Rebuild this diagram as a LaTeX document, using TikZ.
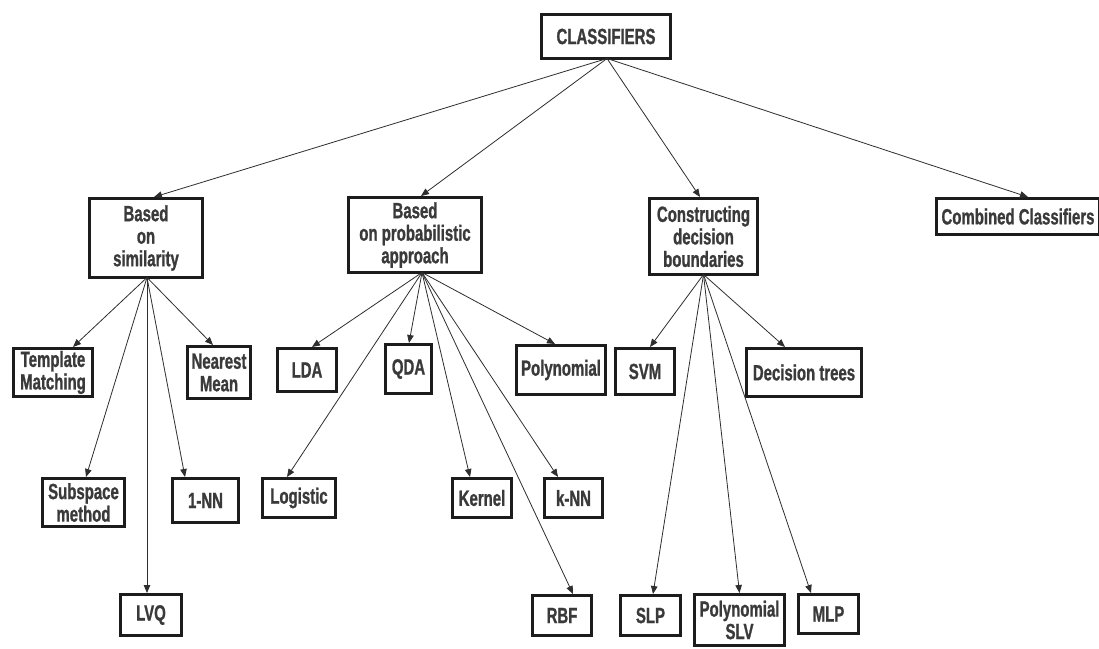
\documentclass[tikz,border=0pt]{standalone}
\usepackage{fontspec}
\usetikzlibrary{arrows.meta}
\newfontfamily\boxfont[FakeStretch=0.68, FakeBold=1]{Liberation Sans Bold}
\definecolor{boxcol}{HTML}{1C1C1C}
\definecolor{txtcol}{HTML}{3A3A3A}
\definecolor{linecol}{HTML}{2E2E2E}
\tikzset{
  box/.style={draw=boxcol, line width=3pt, fill=white, inner sep=0pt,
    align=center, text=txtcol,
    font=\boxfont\fontsize{22}{22.5}\selectfont},
  sz/.style 2 args={minimum width=#1-3, minimum height=#2-3},
  arr/.style={draw=linecol, line width=0.8pt,
    -{Triangle[length=8pt,width=6.5pt]}},
}
\begin{document}
\begin{tikzpicture}[x=1pt,y=-1pt]
\fill[white] (0,0) rectangle (1099,648);
\useasboundingbox (0,0) rectangle (1099,648);

% root
\node[box, sz={132}{47}] (cl) at (606,36.5) {CLASSIFIERS};

% first level
\node[box, sz={116}{82}] (sim) at (146,238) {Based\\on\\similarity};
\node[box, sz={136}{78}] (prob) at (415,235) {Based\\on probabilistic\\approach};
\node[box, sz={111}{79}] (cons) at (703.5,236.5) {Constructing\\decision\\boundaries};
\node[box, sz={166}{39}] (comb) at (1018,216.5) {Combined Classifiers};

% second level
\node[box, sz={82}{51}] (tm) at (53,372.5) {Template\\Matching};
\node[box, sz={66}{55}] (nm) at (219,372.5) {Nearest\\Mean};
\node[box, sz={62}{46}] (lda) at (307,370) {LDA};
\node[box, sz={49}{52}] (qda) at (408.5,369) {QDA};
\node[box, sz={92}{52}] (poly) at (561,370) {Polynomial};
\node[box, sz={62}{49}] (svm) at (645,371.5) {SVM};
\node[box, sz={118}{51}] (dt) at (804,372.5) {Decision trees};

% third level
\node[box, sz={85}{51}] (sub) at (83.5,502.5) {Subspace\\method};
\node[box, sz={69}{47}] (onn) at (205.5,500.5) {1-NN};
\node[box, sz={76}{42}] (log) at (299,498) {Logistic};
\node[box, sz={62}{42}] (ker) at (482,498) {Kernel};
\node[box, sz={61}{42}] (knn) at (573.5,498) {k-NN};

% fourth level
\node[box, sz={64}{44}] (lvq) at (151,615) {LVQ};
\node[box, sz={62}{43}] (rbf) at (562,615.5) {RBF};
\node[box, sz={63}{43}] (slp) at (650.5,615.5) {SLP};
\node[box, sz={93}{54}] (pslv) at (739.5,620) {Polynomial\\SLV};
\node[box, sz={63}{42}] (mlp) at (828.5,614) {MLP};

% fan-out points under each parent
\coordinate (clo) at ([xshift=1pt,yshift=1.5pt]cl.south);
\coordinate (simo) at ([xshift=1pt,yshift=1.5pt]sim.south);
\coordinate (probo) at ([xshift=7pt,yshift=1.5pt]prob.south);
\coordinate (conso) at ([xshift=0pt,yshift=1.5pt]cons.south);

% connectors
\draw[arr] (clo) -- ([xshift=8pt]sim.north);
\draw[arr] (clo) -- ([xshift=6pt]prob.north);
\draw[arr] (clo) -- ([xshift=-3.5pt]cons.north);
\draw[arr] (clo) -- ([xshift=10pt]comb.north);

\draw[arr] (simo) -- ([xshift=20pt]tm.north);
\draw[arr] (simo) -- ([xshift=-6pt]nm.north);
\draw[arr] (simo) -- ([xshift=2.5pt]sub.north);
\draw[arr] (simo) -- ([xshift=-20.5pt]onn.north);
\draw[arr] (simo) -- ([xshift=-4pt]lvq.north);

\draw[arr] (probo) -- ([xshift=5pt]lda.north);
\draw[arr] (probo) -- ([xshift=0.5pt]qda.north);
\draw[arr] (probo) -- ([xshift=-6pt]poly.north);
\draw[arr] (probo) -- ([xshift=-12pt]log.north);
\draw[arr] (probo) -- ([xshift=-12pt]ker.north);
\draw[arr] (probo) -- ([xshift=-15.5pt]knn.north);
\draw[arr] (probo) -- ([xshift=11pt]rbf.north);

\draw[arr] (conso) -- ([xshift=5pt]svm.north);
\draw[arr] (conso) -- ([xshift=-19pt]dt.north);
\draw[arr] (conso) -- ([xshift=2.5pt]slp.north);
\draw[arr] (conso) -- ([xshift=0pt]pslv.north);
\draw[arr] (conso) -- ([xshift=-17.5pt]mlp.north);
\end{tikzpicture}
\end{document}
